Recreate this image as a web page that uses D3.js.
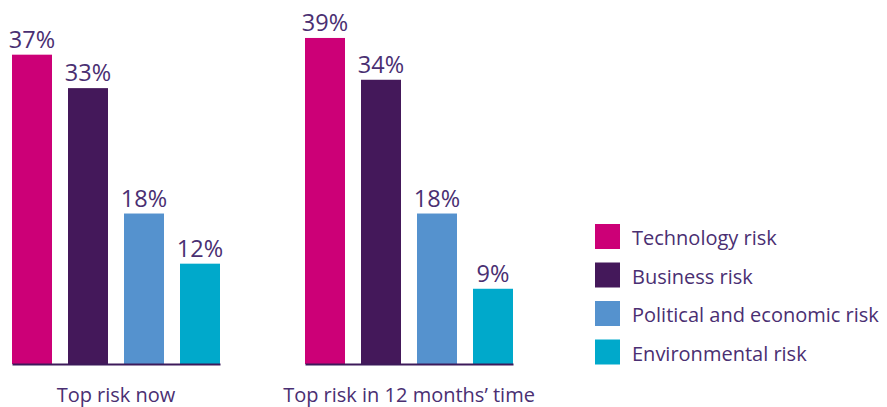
<!DOCTYPE html>
<html><head><meta charset="utf-8">
<script src="https://cdn.jsdelivr.net/npm/d3@7"></script>
<style>body{margin:0;background:#fff}svg{display:block}</style>
</head><body>
<script>
const groups = ["Top risk now", "Top risk in 12 months’ time"];
const series = ["Technology risk", "Business risk", "Political and economic risk", "Environmental risk"];
const nowValues = [37, 33, 18, 12];
const futureValues = [39, 34, 18, 9];
const colors = ["#cc0077", "#44185a", "#5592ce", "#00a9cb"];

const values = [nowValues, futureValues];
const W = 887, H = 407;
const font = "'Open Sans', 'Liberation Sans', Arial, sans-serif";
const textColor = "#4a2f72";

const svg = d3.select("body").append("svg").attr("width", W).attr("height", H);

const x0 = d3.scaleBand().domain(groups).range([12, 513]).paddingInner(85/293).paddingOuter(0);
const x1 = d3.scaleBand().domain(series).range([0, x0.bandwidth()]).paddingInner(16/56).paddingOuter(0);
const y = d3.scaleLinear().domain([0, 40]).range([364, 364 - 8.36*40]);
const color = d3.scaleOrdinal().domain(series).range(colors);

groups.forEach((g, gi) => {
  const gEl = svg.append("g").attr("transform", `translate(${x0(g)},0)`);
  const data = series.map((s, i) => ({s, v: values[gi][i]}));
  gEl.selectAll("rect").data(data).join("rect")
    .attr("x", d => x1(d.s)).attr("width", x1.bandwidth())
    .attr("y", d => y(d.v)).attr("height", d => y(0) - y(d.v))
    .attr("fill", d => color(d.s));
  gEl.selectAll("text.val").data(data).join("text").attr("class","val")
    .attr("x", d => x1(d.s) + x1.bandwidth()/2).attr("y", d => y(d.v) - 7)
    .attr("text-anchor", "middle").attr("font-family", font).attr("font-size", 23.5)
    .attr("font-weight", 500).attr("fill", textColor).text(d => d.v + "%");
  const axis = d3.axisBottom(d3.scaleLinear().range([0, x0.bandwidth()])).ticks(0).tickSize(0).tickFormat("");
  const ax = gEl.append("g").attr("transform", `translate(0,${y(0)})`).call(axis);
  ax.select(".domain").attr("stroke", "#3d1a5a").attr("stroke-width", 2);
  gEl.append("text").attr("x", x0.bandwidth()/2).attr("y", 402)
    .attr("text-anchor", "middle").attr("font-family", font).attr("font-size", 20)
    .attr("font-weight", 500).attr("fill", textColor).text(g);
});

const legend = svg.append("g").attr("transform", "translate(595,224)");
const ly = d3.scalePoint().domain(series).range([0, 38.5*3]);
const li = legend.selectAll("g").data(series).join("g").attr("transform", d => `translate(0,${ly(d)})`);
li.append("rect").attr("width", 25).attr("height", 25).attr("fill", d => color(d));
li.append("text").attr("x", 37).attr("y", 21).attr("font-family", font).attr("font-size", 20)
  .attr("font-weight", 500).attr("fill", textColor).text(d => d);
</script>
</body></html>
